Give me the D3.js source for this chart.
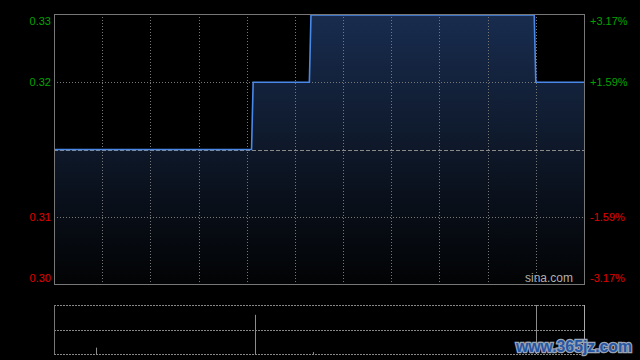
<!DOCTYPE html>
<html>
<head>
<meta charset="utf-8">
<script src="https://cdn.jsdelivr.net/npm/d3@7"></script>
<style>
  html, body { margin: 0; padding: 0; background: #000; }
  svg { display: block; }
  text { font-family: "Liberation Sans", Arial, sans-serif; }
</style>
</head>
<body>
<div id="chart"></div>
<script>
// price line: minute of session -> price (only the points where it moves)
const minutes = [0, 123, 124, 159, 160, 299, 300, 330];
const prices = [0.315, 0.315, 0.32, 0.32, 0.325, 0.325, 0.32, 0.32];
const prevClose = 0.315;

// volume bars
const volMinutes = [26, 125, 161, 300];
const volumes = [13000, 80000, 4000, 100000];

// axis labels
const tickValues = [0.325, 0.32, 0.31, 0.305];
const tickLabels = ["0.33", "0.32", "0.31", "0.30"];
const pctLabels = ["+3.17%", "+1.59%", "-1.59%", "-3.17%"];
const gridMinutes = [30, 60, 90, 120, 150, 180, 210, 240, 270, 300];

const W = 640, H = 360;
const pLeft = 54, pRight = 584;
const pTop = 14, pBottom = 284;
const vTop = 305, vBottom = 354;

const svg = d3.select("#chart").append("svg")
  .attr("width", W)
  .attr("height", H);

const x = d3.scaleLinear().domain([0, 330]).range([pLeft, pRight]);
const y = d3.scaleLinear().domain([0.305, 0.325]).range([pBottom, pTop + 1]);
const yv = d3.scaleLinear().domain([0, d3.max(volumes)]).range([vBottom, vTop]);

const pts = minutes.map((m, i) => ({m: m, p: prices[i]}));

// gradient under the line
const grad = svg.append("defs").append("linearGradient")
  .attr("id", "fillGrad")
  .attr("gradientUnits", "userSpaceOnUse")
  .attr("x1", 0).attr("y1", pTop)
  .attr("x2", 0).attr("y2", pBottom);
grad.append("stop").attr("offset", "0%").attr("stop-color", "#182c4f");
grad.append("stop").attr("offset", "50%").attr("stop-color", "#0e1829");
grad.append("stop").attr("offset", "100%").attr("stop-color", "#020304");

svg.append("path")
  .datum(pts)
  .attr("fill", "url(#fillGrad)")
  .attr("d", d3.area()
    .x(d => x(d.m))
    .y0(pBottom)
    .y1(d => y(d.p)));

// grid
svg.append("g")
  .selectAll("line")
  .data(gridMinutes)
  .join("line")
    .attr("x1", d => Math.round(x(d)) + 0.5)
    .attr("x2", d => Math.round(x(d)) + 0.5)
    .attr("y1", pTop)
    .attr("y2", pBottom)
    .attr("stroke", "#777")
    .attr("stroke-dasharray", "1,2");

svg.append("g")
  .selectAll("line")
  .data([0.32, 0.31])
  .join("line")
    .attr("x1", pLeft)
    .attr("x2", pRight)
    .attr("y1", d => Math.round(y(d)) + 0.5)
    .attr("y2", d => Math.round(y(d)) + 0.5)
    .attr("stroke", "#777")
    .attr("stroke-dasharray", "1,2");

svg.append("line")
  .attr("x1", pLeft).attr("x2", pRight)
  .attr("y1", Math.round(y(prevClose)) + 0.5)
  .attr("y2", Math.round(y(prevClose)) + 0.5)
  .attr("stroke", "#8a8a8a")
  .attr("stroke-dasharray", "4,2");

// price line
svg.append("path")
  .datum(pts)
  .attr("fill", "none")
  .attr("stroke", "#4a88e8")
  .attr("stroke-width", 1.6)
  .attr("d", d3.line()
    .x(d => x(d.m))
    .y(d => y(d.p)));

// frame
svg.append("rect")
  .attr("x", pLeft + 0.5).attr("y", pTop + 0.5)
  .attr("width", pRight - pLeft).attr("height", pBottom - pTop)
  .attr("fill", "none")
  .attr("stroke", "#777");

// left / right labels
tickValues.forEach((v, i) => {
  let dy = 4;
  if (i === 0) dy = 9.5;
  if (i === tickValues.length - 1) dy = -1.7;
  const col = v > prevClose ? "#00a400" : "#e40000";
  svg.append("text")
    .attr("x", pLeft - 3)
    .attr("y", y(v) + dy)
    .attr("text-anchor", "end")
    .attr("font-size", 11)
    .attr("fill", col)
    .text(tickLabels[i]);
  svg.append("text")
    .attr("x", pRight + 6)
    .attr("y", y(v) + dy)
    .attr("font-size", 11)
    .attr("fill", col)
    .text(pctLabels[i]);
});

svg.append("text")
  .attr("x", pRight - 11)
  .attr("y", 282)
  .attr("text-anchor", "end")
  .attr("font-size", 12)
  .attr("fill", "#b0b0b0")
  .text("sina.com");

// volume pane
[vTop, (vTop + vBottom) / 2, vBottom].forEach(v => {
  svg.append("line")
    .attr("x1", pLeft).attr("x2", pRight)
    .attr("y1", Math.round(v) + 0.5).attr("y2", Math.round(v) + 0.5)
    .attr("stroke", "#888")
    .attr("stroke-dasharray", "2,1");
});
svg.append("line")
  .attr("x1", pLeft + 0.5).attr("x2", pLeft + 0.5)
  .attr("y1", vTop).attr("y2", vBottom)
  .attr("stroke", "#777");
svg.append("line")
  .attr("x1", pRight + 0.5).attr("x2", pRight + 0.5)
  .attr("y1", vTop).attr("y2", vBottom + 1)
  .attr("stroke", "#aaa");

svg.append("g")
  .selectAll("line")
  .data(volMinutes.map((m, i) => ({m: m, v: volumes[i]})))
  .join("line")
    .attr("x1", d => Math.round(x(d.m)) + 0.5)
    .attr("x2", d => Math.round(x(d.m)) + 0.5)
    .attr("y1", vBottom)
    .attr("y2", d => yv(d.v))
    .attr("stroke", "#8c8c8c");

// watermark
svg.append("text")
  .attr("x", 516)
  .attr("y", 352)
  .attr("font-family", "DejaVu Sans, sans-serif")
  .attr("font-weight", "bold")
  .attr("font-size", 16)
  .attr("textLength", 116)
  .attr("lengthAdjust", "spacingAndGlyphs")
  .attr("fill", "#2656a4")
  .attr("stroke", "#9aa4b4")
  .attr("stroke-width", 2.5)
  .attr("paint-order", "stroke")
  .text("www.365jz.com");
</script>
</body>
</html>
